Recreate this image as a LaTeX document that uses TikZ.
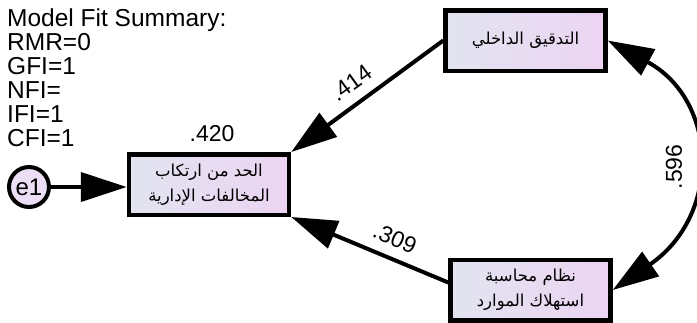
\documentclass[tikz,border=0pt]{standalone}
\usepackage{fontspec}
\setmainfont{Liberation Sans}
\newfontfamily\arabicfont[Script=Arabic]{DejaVu Sans}
\TeXXeTstate=1
\usetikzlibrary{arrows.meta}
\definecolor{boxleft}{RGB}{226,228,240}
\definecolor{boxright}{RGB}{236,212,242}
\definecolor{circfill}{RGB}{236,222,244}
\begin{document}
\begin{tikzpicture}[x=1pt,y=-1pt,
  varbox/.style={draw, line width=4.5pt, left color=boxleft, right color=boxright,
    minimum width=160pt, minimum height=60.5pt, inner sep=0pt, outer sep=2.25pt,
    font=\arabicfont\fontsize{16.5}{25}\selectfont, align=center},
  errcirc/.style={circle, draw, line width=4pt, fill=circfill, minimum size=40pt,
    inner sep=0pt, outer sep=2pt, font=\fontsize{24}{24}\selectfont},
  arr/.style={line width=4pt, -{Triangle[length=46pt,width=29pt]}},
  dblarr/.style={line width=4pt, {Triangle[length=46pt,width=29pt]}-{Triangle[length=46pt,width=29pt]}},
  lbl/.style={inner sep=0pt, font=\fontsize{23}{23}\selectfont},
  fitline/.style={anchor=base west, inner sep=0pt, font=\fontsize{24.5}{24}\selectfont}
]
\useasboundingbox (0,0) rectangle (697,322);

\node[fitline] (fit1) at (7,26) {Model Fit Summary:};
\node[fitline] (fit2) at (7,50) {RMR=0};
\node[fitline] (fit3) at (7,74) {GFI=1};
\node[fitline] (fit4) at (7,98) {NFI=};
\node[fitline] (fit5) at (7,122) {IFI=1};
\node[fitline] (fit6) at (7,146) {CFI=1};

\node[varbox] (dv) at (209,184.5) {\beginR الحد من ارتكاب\endR\\\beginR المخالفات الإدارية\endR};
\node[varbox] (ia) at (525.5,40.5) {\beginR التدقيق الداخلي\endR};
\node[varbox] (ra) at (530.5,290) {\beginR نظام محاسبة\endR\\\beginR استهلاك الموارد\endR};
\node[errcirc] (e1) at (29,187) {e1};

\draw[arr] (e1) -- (e1 -| dv.west);
\draw[arr] (ia.west) -- (dv.north east);
\draw[arr] ([yshift=7.5pt]ra.west) -- (dv.south east);
\draw[dblarr] (ia.east) .. controls (718,100) and (722,215) .. (ra.east);

\node[lbl] (r2) at (212,134) {.420};
\node[lbl, rotate=36] (w1) at (351,83) {.414};
\node[lbl, rotate=-23] (w2) at (395,238) {.309};
\node[lbl, rotate=90] (c1) at (674,167) {.596};
\end{tikzpicture}
\end{document}
